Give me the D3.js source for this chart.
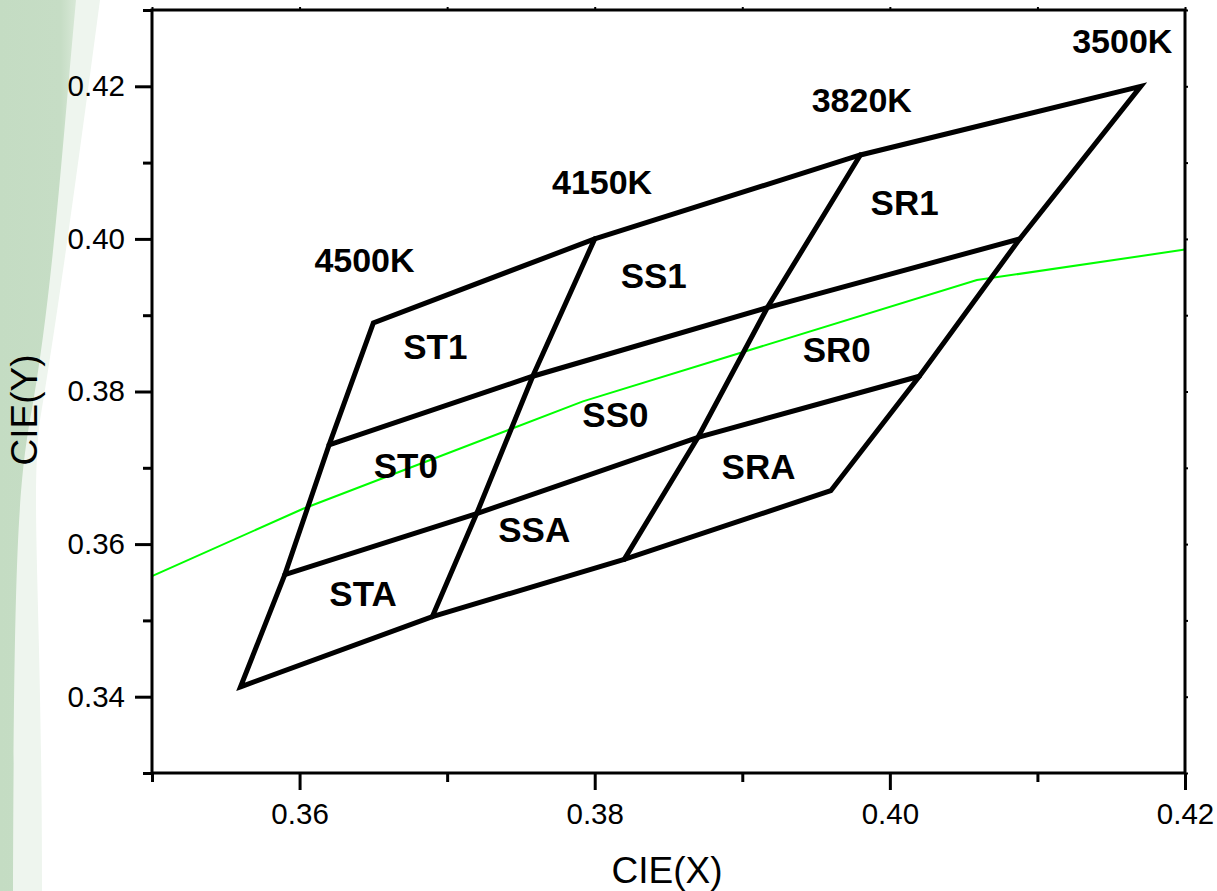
<!DOCTYPE html>
<html>
<head>
<meta charset="utf-8">
<script src="https://cdn.jsdelivr.net/npm/d3@7/dist/d3.min.js"></script>
<style>
  html, body { margin: 0; padding: 0; background: #fff; }
  svg { display: block; }
  text { font-family: "Liberation Sans", Arial, sans-serif; }
</style>
</head>
<body>
<svg id="chart" width="1217" height="891"></svg>
<script>
// ---- data ----
const xDomain = [0.35, 0.42];
const yDomain = [0.33, 0.43];
const xMajorTicks = [0.36, 0.38, 0.40, 0.42];
const xMinorTicks = [0.35, 0.37, 0.39, 0.41];
const yMajorTicks = [0.34, 0.36, 0.38, 0.40, 0.42];
const yMinorTicks = [0.33, 0.35, 0.37, 0.39, 0.41, 0.43];
const xTickLabels = ["0.36", "0.38", "0.40", "0.42"];
const yTickLabels = ["0.34", "0.36", "0.38", "0.40", "0.42"];

// bin grid corner points: rows from bottom (A lower edge) to top (1 upper edge)
const row0 = [[0.356, 0.3413], [0.369, 0.3505], [0.382, 0.358], [0.396, 0.367]];
const row1 = [[0.359, 0.356], [0.372, 0.364], [0.387, 0.374], [0.402, 0.382]];
const row2 = [[0.362, 0.373], [0.3758, 0.382], [0.3917, 0.391], [0.4088, 0.400]];
const row3 = [[0.365, 0.389], [0.380, 0.400], [0.398, 0.411], [0.417, 0.420]];

// Planckian locus segment (green)
const locusX = [0.35, 0.3602, 0.3792, 0.4059, 0.42];
const locusY = [0.3558, 0.3646, 0.3787, 0.3946, 0.3986];

// labels
const cctLabels = ["4500K", "4150K", "3820K", "3500K"];
const cctX = [0.3644, 0.3805, 0.3981, 0.41575];
const cctY = [0.3956, 0.4059, 0.4166, 0.4244];

const binLabels = ["ST1", "SS1", "SR1", "ST0", "SS0", "SR0", "STA", "SSA", "SRA"];
const binX = [0.3692, 0.3840, 0.4010, 0.3672, 0.3814, 0.3964, 0.3643, 0.3759, 0.3911];
const binY = [0.3843, 0.3935, 0.4031, 0.3686, 0.3753, 0.3839, 0.3519, 0.3603, 0.3685];

const xTitle = "CIE(X)";
const yTitle = "CIE(Y)";

// ---- drawing ----
(function () {
const svg = d3.select("#chart");
const mLeft = 152, mRight = 1185, mTop = 10, mBottom = 773;

// background swoosh
const defs = svg.append("defs");
const grad = defs.append("linearGradient").attr("id", "bgGrad")
  .attr("x1", "0").attr("y1", "0").attr("x2", "1").attr("y2", "0");
grad.append("stop").attr("offset", "0").attr("stop-color", "#c4dcc3");
grad.append("stop").attr("offset", "0.8").attr("stop-color", "#c6ddc5");
grad.append("stop").attr("offset", "1").attr("stop-color", "#d8e8d7");

svg.append("path")
  .attr("d", "M0,0 L100,0 C80,150 60,300 40,420 C30,500 42,600 42,891 L0,891 Z")
  .attr("fill", "#eef5ee");
svg.append("path")
  .attr("d", "M0,0 L76,0 C62,150 52,300 30,420 C18,490 14,560 13,891 L0,891 Z")
  .attr("fill", "url(#bgGrad)");

const x = d3.scaleLinear().domain(xDomain).range([mLeft, mRight]);
const y = d3.scaleLinear().domain(yDomain).range([mBottom, mTop]);

// plot area
svg.append("rect")
  .attr("x", mLeft).attr("y", mTop)
  .attr("width", mRight - mLeft).attr("height", mBottom - mTop)
  .attr("fill", "#fff");

// green locus
const locus = locusX.map((v, i) => [v, locusY[i]]);
const line = d3.line().x(d => x(d[0])).y(d => y(d[1]));
svg.append("path")
  .datum(locus)
  .attr("d", line)
  .attr("fill", "none")
  .attr("stroke", "#00ff00")
  .attr("stroke-width", 2);

// grid
const rows = [row0, row1, row2, row3];
const g = svg.append("g")
  .attr("fill", "none")
  .attr("stroke", "#000")
  .attr("stroke-width", 5)
  .attr("stroke-linejoin", "miter")
  .attr("stroke-linecap", "round");

[row1, row2].forEach(r => g.append("path").datum(r).attr("d", line));
[1, 2].forEach(c => g.append("path").datum(rows.map(r => r[c])).attr("d", line));
const outline = row0.concat(rows.map(r => r[3]).slice(1))
  .concat(row3.slice().reverse().slice(1))
  .concat(rows.map(r => r[0]).reverse().slice(1, 3));
g.append("path").datum(outline).attr("d", d => line(d) + "Z");

// axes
const axisG = svg.append("g");
function styleAxis(sel) {
  sel.select(".domain").remove();
  sel.selectAll("line").attr("stroke", "#000").attr("stroke-width", 3);
}
const xb = axisG.append("g").attr("transform", `translate(0,${mBottom})`)
  .call(d3.axisBottom(x).tickValues(xMajorTicks).tickSize(17)
    .tickFormat((d, i) => xTickLabels[i]));
styleAxis(xb);
xb.selectAll("text").attr("y", 51).attr("dy", 0)
  .attr("font-size", 29.5).attr("fill", "#000")
  .style("font-family", "'Liberation Sans', Arial, sans-serif");
const xbm = axisG.append("g").attr("transform", `translate(0,${mBottom})`)
  .call(d3.axisBottom(x).tickValues(xMinorTicks).tickSize(9).tickFormat(""));
styleAxis(xbm);
const yl = axisG.append("g").attr("transform", `translate(${mLeft},0)`)
  .call(d3.axisLeft(y).tickValues(yMajorTicks).tickSize(17).tickPadding(10)
    .tickFormat((d, i) => yTickLabels[i]));
styleAxis(yl);
yl.selectAll("text").attr("dy", "0.32em")
  .attr("font-size", 29.5).attr("fill", "#000")
  .style("font-family", "'Liberation Sans', Arial, sans-serif");
const ylm = axisG.append("g").attr("transform", `translate(${mLeft},0)`)
  .call(d3.axisLeft(y).tickValues(yMinorTicks).tickSize(9).tickFormat(""));
styleAxis(ylm);
const yr = axisG.append("g").attr("transform", `translate(${mRight},0)`)
  .call(d3.axisRight(y).tickValues(yMajorTicks.concat(yMinorTicks)).tickSize(3).tickFormat(""));
styleAxis(yr);
yr.selectAll("line").attr("stroke-width", 2);
const xt = axisG.append("g").attr("transform", `translate(0,${mTop})`)
  .call(d3.axisTop(x).tickValues(xMajorTicks.concat(xMinorTicks)).tickSize(3).tickFormat(""));
styleAxis(xt);
xt.selectAll("line").attr("stroke-width", 2);

// frame
svg.append("rect")
  .attr("x", mLeft).attr("y", mTop)
  .attr("width", mRight - mLeft).attr("height", mBottom - mTop)
  .attr("fill", "none").attr("stroke", "#000").attr("stroke-width", 3);

// CCT labels
svg.append("g").selectAll("text").data(cctLabels).join("text")
  .attr("x", (d, i) => x(cctX[i]))
  .attr("y", (d, i) => y(cctY[i]))
  .attr("text-anchor", "middle")
  .attr("font-size", 34).attr("font-weight", "bold")
  .text(d => d);

// bin labels
svg.append("g").selectAll("text").data(binLabels).join("text")
  .attr("x", (d, i) => x(binX[i]))
  .attr("y", (d, i) => y(binY[i]))
  .attr("text-anchor", "middle")
  .attr("font-size", 35).attr("font-weight", "bold")
  .text(d => d);

// axis titles
svg.append("text")
  .attr("x", 667).attr("y", 883)
  .attr("text-anchor", "middle")
  .attr("font-size", 37)
  .text(xTitle);
svg.append("text")
  .attr("transform", "translate(37,410) rotate(-90)")
  .attr("text-anchor", "middle")
  .attr("font-size", 37)
  .text(yTitle);
})();
</script>
</body>
</html>
